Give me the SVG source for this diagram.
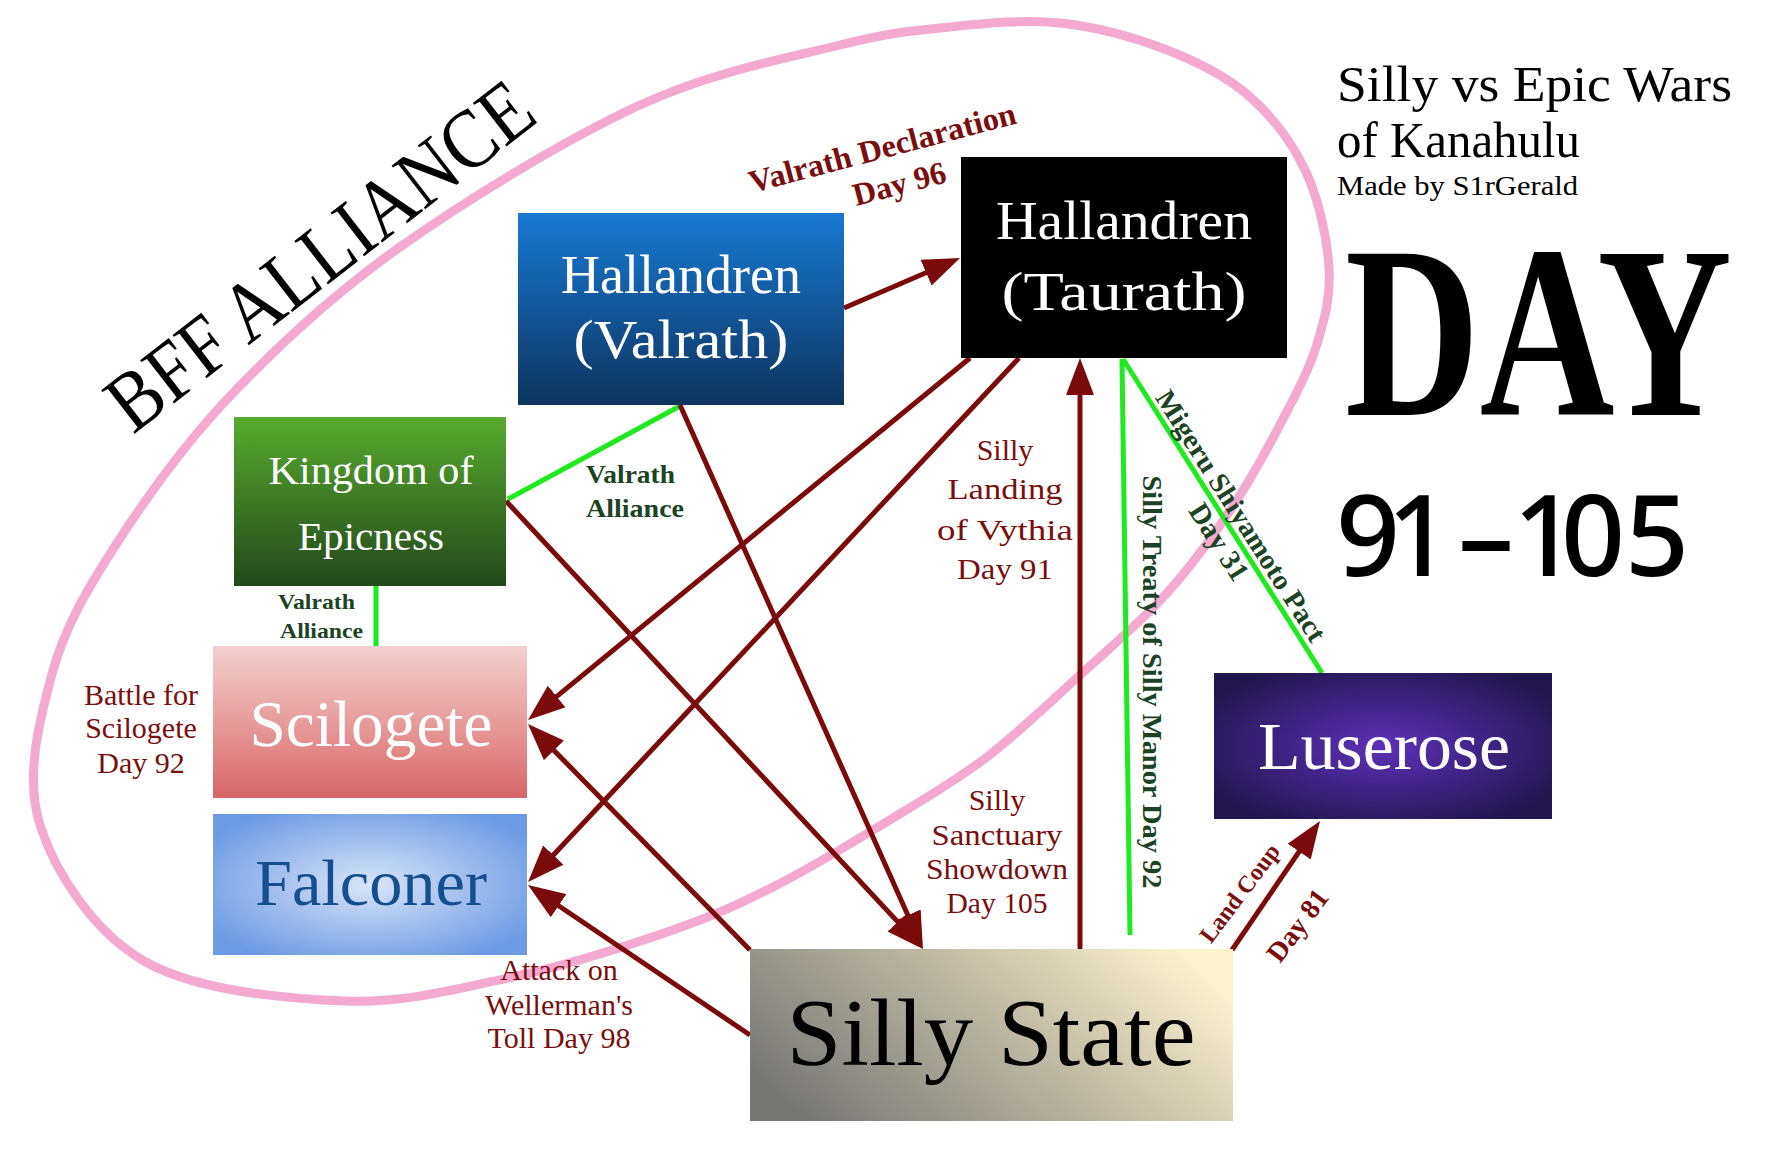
<svg xmlns="http://www.w3.org/2000/svg" width="1771" height="1172" viewBox="0 0 1771 1172">
<style>
.serif{font-family:"Liberation Serif","Times New Roman",serif}
.nl{font-family:"Liberation Serif","Times New Roman",serif;fill:#fff;text-anchor:middle}
.red{font-family:"Liberation Serif","Times New Roman",serif;fill:#7A0E0E;text-anchor:middle;font-size:30px}
.redb{font-family:"Liberation Serif","Times New Roman",serif;fill:#7A0E0E;font-weight:bold;text-anchor:middle}
.grn{font-family:"Liberation Serif","Times New Roman",serif;fill:#1D4324;font-weight:bold}
.arrow{stroke:#7B0A0A;stroke-width:5;fill:none;marker-end:url(#ah)}
.gline{stroke:#1FEA1F;stroke-width:5;fill:none}
</style>
<defs>
<marker id="ah" markerUnits="userSpaceOnUse" markerWidth="37" markerHeight="28" viewBox="0 0 37 28" refX="29" refY="14" orient="auto">
<path d="M0,0 L37,14 L0,28 Z" fill="#7B0A0A"/>
</marker>
<linearGradient id="gValrath" x1="0" y1="0" x2="0" y2="1"><stop offset="0" stop-color="#1879D3"/><stop offset="1" stop-color="#0D345E"/></linearGradient>
<linearGradient id="gKingdom" x1="0" y1="0" x2="0" y2="1"><stop offset="0" stop-color="#57AB2E"/><stop offset="1" stop-color="#23481B"/></linearGradient>
<linearGradient id="gScilo" x1="0" y1="0" x2="0" y2="1"><stop offset="0" stop-color="#F3D0D0"/><stop offset="0.5" stop-color="#E79C9C"/><stop offset="1" stop-color="#D86666"/></linearGradient>
<radialGradient id="gFalc" cx="0.5" cy="0.5" r="0.6"><stop offset="0" stop-color="#D8E6F9"/><stop offset="1" stop-color="#6D9BE3"/></radialGradient>
<radialGradient id="gLuse" cx="0.5" cy="0.5" r="0.6"><stop offset="0" stop-color="#5C31B8"/><stop offset="1" stop-color="#21164E"/></radialGradient>
<linearGradient id="gSilly" x1="0" y1="0.7" x2="1" y2="0.3"><stop offset="0" stop-color="#777776"/><stop offset="0.5" stop-color="#B8B3A0"/><stop offset="1" stop-color="#FBF1CD"/></linearGradient>
</defs>
<rect width="1771" height="1172" fill="#fff"/>

<g id="bff-alliance">
<path d="M1060,23 C1096.2,26.8 1135.5,37.8 1167,50 C1198.5,62.2 1225.8,75.7 1249,96 C1272.2,116.3 1292.7,143.3 1306,172 C1319.3,200.7 1327.2,239.3 1329,268 C1330.8,296.7 1324.7,318.8 1317,344 C1309.3,369.2 1297,392 1283,419 C1269,446 1252.3,477 1233,506 C1213.7,535 1192.5,564.8 1167,593 C1141.5,621.2 1110.7,647.2 1080,675 C1049.3,702.8 1017.5,734.2 983,760 C948.5,785.8 908,808.8 873,830 C838,851.2 806.3,870.3 773,887 C739.7,903.7 715.7,915.2 673,930 C630.3,944.8 571.8,964.2 517,976 C462.2,987.8 406.2,1003.5 344,1001 C281.8,998.5 194.7,990.3 144,961 C93.3,931.7 55.3,872.8 40,825 C24.7,777.2 39.2,721 52,674 C64.8,627 86.8,589.8 117,543 C147.2,496.2 185.8,442.3 233,393 C280.2,343.7 332.2,295 400,247 C467.8,199 566.7,138.7 640,105 C713.3,71.3 788.3,58 840,45 C891.7,32 913.3,30.7 950,27 C986.7,23.3 1023.8,19.2 1060,23 Z" fill="none" stroke="#F3A9D0" stroke-width="9"/>
<text class="serif" transform="translate(133,435) rotate(-37.7)" font-size="84" textLength="515" lengthAdjust="spacingAndGlyphs" fill="#000">BFF ALLIANCE</text>
</g>

<g id="connectors">
<line class="gline" x1="680" y1="406" x2="508" y2="499"/>
<line class="gline" x1="376" y1="586" x2="376" y2="646"/>
<line class="gline" x1="1122" y1="359" x2="1130" y2="935"/>
<line class="gline" x1="1123" y1="359" x2="1322" y2="673"/>
<line class="arrow" x1="844" y1="308" x2="952.7" y2="261.2"/>
<line class="arrow" x1="680" y1="405" x2="919.7" y2="941.7"/>
<line class="arrow" x1="506" y1="501" x2="917.5" y2="943.1"/>
<line class="arrow" x1="970" y1="358" x2="534.2" y2="714.9"/>
<line class="arrow" x1="1019" y1="358" x2="533.5" y2="876.2"/>
<line class="arrow" x1="750" y1="950" x2="533.6" y2="729.7"/>
<line class="arrow" x1="750" y1="1035" x2="534.6" y2="889.5"/>
<line class="arrow" x1="1080" y1="949" x2="1080" y2="366"/>
<line class="arrow" x1="1232" y1="950" x2="1315.5" y2="827.6"/>
</g>

<g id="edge-labels">
<text class="redb" transform="translate(885,158) rotate(-14.7)" font-size="32" textLength="275" lengthAdjust="spacingAndGlyphs">Valrath Declaration</text>
<text class="redb" transform="translate(902,194) rotate(-14.7)" font-size="32">Day 96</text>
<text class="grn" font-size="26"><tspan x="586" y="483" textLength="89" lengthAdjust="spacingAndGlyphs">Valrath</tspan><tspan x="586" y="517" textLength="98" lengthAdjust="spacingAndGlyphs">Alliance</tspan></text>
<text class="grn" font-size="22"><tspan x="278" y="609" textLength="77" lengthAdjust="spacingAndGlyphs">Valrath</tspan><tspan x="280" y="638" textLength="83" lengthAdjust="spacingAndGlyphs">Alliance</tspan></text>
<text class="red"><tspan x="141" y="705">Battle for</tspan><tspan x="141" y="738">Scilogete</tspan><tspan x="141" y="773">Day 92</tspan></text>
<text class="red"><tspan x="559" y="980">Attack on</tspan><tspan x="559" y="1015">Wellerman's</tspan><tspan x="559" y="1048">Toll Day 98</tspan></text>
<text class="red" font-size="33"><tspan x="1005" y="460">Silly</tspan><tspan x="1005" y="499" textLength="115" lengthAdjust="spacingAndGlyphs">Landing</tspan><tspan x="1005" y="540" textLength="136" lengthAdjust="spacingAndGlyphs">of Vythia</tspan><tspan x="1005" y="579" textLength="96" lengthAdjust="spacingAndGlyphs">Day 91</tspan></text>
<text class="red" font-size="33"><tspan x="997" y="810">Silly</tspan><tspan x="997" y="845" textLength="131" lengthAdjust="spacingAndGlyphs">Sanctuary</tspan><tspan x="997" y="879" textLength="142" lengthAdjust="spacingAndGlyphs">Showdown</tspan><tspan x="997" y="913" textLength="101" lengthAdjust="spacingAndGlyphs">Day 105</tspan></text>
<text class="grn" transform="translate(1143,682) rotate(90)" font-size="28" text-anchor="middle" textLength="413" lengthAdjust="spacingAndGlyphs">Silly Treaty of Silly Manor Day 92</text>
<text class="grn" transform="translate(1233,521) rotate(57.5)" font-size="28" text-anchor="middle" textLength="292" lengthAdjust="spacingAndGlyphs">Migeru Shiyamoto Pact</text>
<text class="grn" transform="translate(1211,547) rotate(57.5)" font-size="29" text-anchor="middle">Day 31</text>
<text class="redb" transform="translate(1246,898) rotate(-53)" font-size="24">Land Coup</text>
<text class="redb" transform="translate(1305,931) rotate(-53)" font-size="28">Day 81</text>
</g>

<g id="node-valrath">
<rect x="518" y="213" width="326" height="192" fill="url(#gValrath)"/>
<text class="nl" font-size="54"><tspan x="681" y="293" textLength="240" lengthAdjust="spacingAndGlyphs">Hallandren</tspan><tspan x="681" y="358" textLength="215" lengthAdjust="spacingAndGlyphs">(Valrath)</tspan></text>
</g>
<g id="node-taurath">
<rect x="961" y="157" width="326" height="201" fill="#000"/>
<text class="nl" font-size="54"><tspan x="1124" y="239" textLength="256" lengthAdjust="spacingAndGlyphs">Hallandren</tspan><tspan x="1124" y="310" textLength="245" lengthAdjust="spacingAndGlyphs">(Taurath)</tspan></text>
</g>
<g id="node-kingdom">
<rect x="234" y="417" width="272" height="169" fill="url(#gKingdom)"/>
<text class="nl" font-size="40"><tspan x="371" y="484" textLength="205" lengthAdjust="spacingAndGlyphs">Kingdom of</tspan><tspan x="371" y="550" textLength="146" lengthAdjust="spacingAndGlyphs">Epicness</tspan></text>
</g>
<g id="node-scilogete">
<rect x="213" y="646" width="314" height="152" fill="url(#gScilo)"/>
<text class="nl" x="371" y="746" font-size="66" textLength="243" lengthAdjust="spacingAndGlyphs">Scilogete</text>
</g>
<g id="node-falconer">
<rect x="213" y="814" width="314" height="141" fill="url(#gFalc)"/>
<text class="nl" x="371" y="905" font-size="66" style="fill:#14508F" textLength="232" lengthAdjust="spacingAndGlyphs">Falconer</text>
</g>
<g id="node-luserose">
<rect x="1214" y="673" width="338" height="146" fill="url(#gLuse)"/>
<text class="nl" x="1384" y="769" font-size="68" textLength="252" lengthAdjust="spacingAndGlyphs">Luserose</text>
</g>
<g id="node-silly-state">
<rect x="750" y="949" width="483" height="172" fill="url(#gSilly)"/>
<text class="nl" x="991" y="1065" font-size="95" style="fill:#000" textLength="409" lengthAdjust="spacingAndGlyphs">Silly State</text>
</g>

<g id="title">
<text class="serif" x="1337" y="101" font-size="50" textLength="395" lengthAdjust="spacingAndGlyphs">Silly vs Epic Wars</text>
<text class="serif" x="1337" y="157" font-size="50" textLength="243" lengthAdjust="spacingAndGlyphs">of Kanahulu</text>
<text class="serif" x="1337" y="195" font-size="27" textLength="241" lengthAdjust="spacingAndGlyphs">Made by S1rGerald</text>
<text class="serif" x="1345" y="415" font-size="245" font-weight="bold" textLength="387" lengthAdjust="spacingAndGlyphs">DAY</text>
<text x="1336 1387 1458 1513 1561 1625" y="576" font-family="'Noto Sans','Open Sans',sans-serif" font-size="112" font-weight="500">91–105</text>
</g>
</svg>
